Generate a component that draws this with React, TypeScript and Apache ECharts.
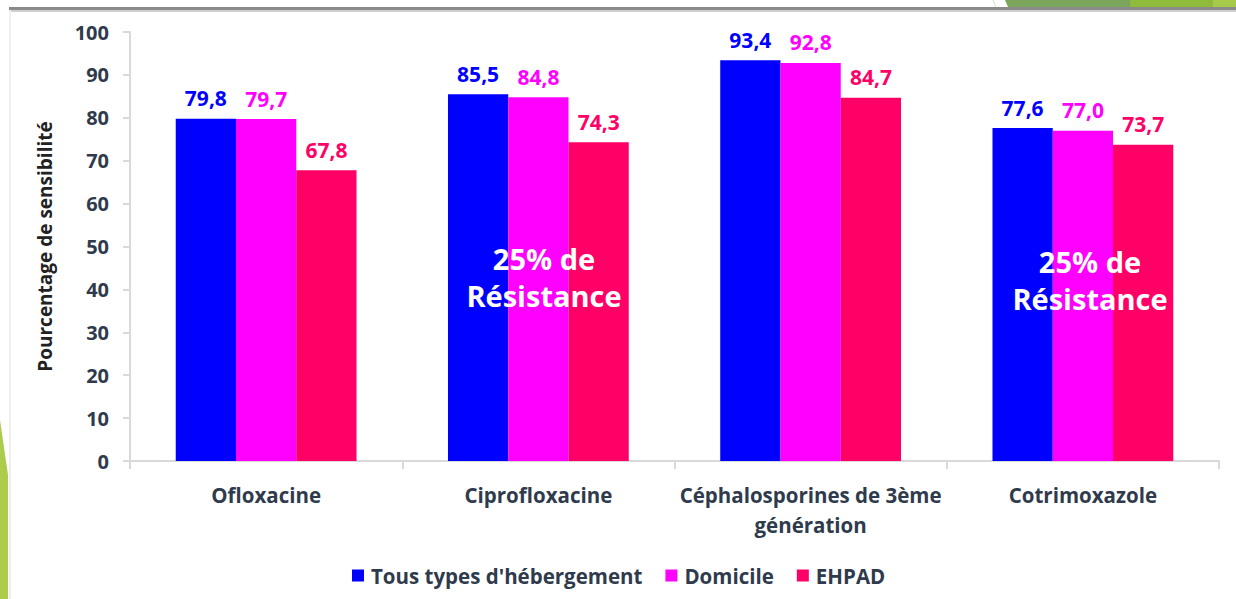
import React, { useEffect, useRef } from "react";
import * as echarts from "echarts";

const categories = [
  "Ofloxacine",
  "Ciprofloxacine",
  "Céphalosporines de 3ème\ngénération",
  "Cotrimoxazole",
];
const seriesNames = ["Tous types d'hébergement", "Domicile", "EHPAD"];
const tousTypes = [79.8, 85.5, 93.4, 77.6];
const domicile = [79.7, 84.8, 92.8, 77.0];
const ehpad = [67.8, 74.3, 84.7, 73.7];
const colors = ["#0000FF", "#FF00FF", "#FF0066"];
const yTicks = { min: 0, max: 100, interval: 10 };
const annotation = "25% de\nRésistance";

const textColor = "#2F3B4C";
const font = "'Open Sans', 'Noto Sans', sans-serif";

export default function App() {
  const ref = useRef<HTMLDivElement>(null);
  useEffect(() => {
    if (!ref.current) return;
    const chart = echarts.init(ref.current, null, { renderer: "svg" });
    const values = [tousTypes, domicile, ehpad];
    const annotationStyle = {
      text: annotation,
      fill: "#ffffff",
      fontSize: 29,
      fontWeight: "bold",
      fontFamily: font,
      align: "center",
      verticalAlign: "middle",
      lineHeight: 37,
    };
    const option: any = {
      animation: false,
      backgroundColor: "#ffffff",
      textStyle: { fontFamily: font },
      grid: { left: 130, top: 32, right: 17, bottom: 138 },
      legend: {
        left: 347,
        top: 560,
        itemWidth: 12,
        itemHeight: 12,
        itemGap: 23,
        icon: "rect",
        textStyle: { fontSize: 20.5, fontWeight: "bold", color: textColor, fontFamily: font, padding: [0, 0, 0, 2] },
        data: seriesNames,
      },
      xAxis: {
        type: "category",
        data: categories,
        axisLine: { lineStyle: { color: "#D9D9D9", width: 2 } },
        axisTick: { show: true, alignWithLabel: false, length: 8, lineStyle: { color: "#D9D9D9", width: 2 } },
        axisLabel: {
          color: textColor,
          fontSize: 20.5,
          fontWeight: "bold",
          fontFamily: font,
          margin: 19,
          lineHeight: 30,
          interval: 0,
        },
      },
      yAxis: {
        type: "value",
        min: yTicks.min,
        max: yTicks.max,
        interval: yTicks.interval,
        name: "Pourcentage de sensibilité",
        nameLocation: "middle",
        nameGap: 76,
        nameRotate: 90,
        nameTextStyle: { color: "#222", fontSize: 19, fontWeight: "bold", fontFamily: font },
        axisLine: { show: true, lineStyle: { color: "#D9D9D9", width: 2 } },
        axisTick: { show: true, length: 7, lineStyle: { color: "#D9D9D9", width: 2 } },
        splitLine: { show: false },
        axisLabel: { color: textColor, fontSize: 20, fontWeight: "bold", fontFamily: font, margin: 21 },
      },
      series: seriesNames.map((name, i) => ({
        name,
        type: "bar",
        data: values[i],
        barGap: "0%",
        barCategoryGap: "33.6%",
        itemStyle: { color: colors[i] },
        label: {
          show: true,
          position: "top",
          distance: 10,
          color: colors[i],
          fontSize: 21,
          fontWeight: "bold",
          fontFamily: font,
          formatter: (p: any) => Number(p.value).toFixed(1).replace(".", ","),
        },
      })),
      graphic: [
        // top gray rule with shadow
        { type: "rect", z: 100, shape: { x: 9, y: 7, width: 1227, height: 3 }, style: { fill: "#8a8a8a" }, silent: true },
        { type: "rect", z: 100, shape: { x: 9, y: 10, width: 1227, height: 2 }, style: { fill: "#d0d0d0" }, silent: true },
        // left thin vertical line
        { type: "rect", z: 100, shape: { x: 9, y: 10, width: 2, height: 589 }, style: { fill: "#EFEFEF" }, silent: true },
        // top right green band
        { type: "polygon", z: 100, shape: { points: [[1005, 0], [1130, 0], [1130, 7], [1008, 7]] }, style: { fill: "#7AA55A" }, silent: true },
        { type: "rect", z: 100, shape: { x: 1130, y: 0, width: 83, height: 7 }, style: { fill: "#8FBA3C" }, silent: true },
        { type: "rect", z: 100, shape: { x: 1213, y: 0, width: 23, height: 7 }, style: { fill: "#A6CB4A" }, silent: true },
        { type: "line", z: 100, shape: { x1: 993, y1: 0, x2: 996, y2: 7 }, style: { stroke: "#dddddd", lineWidth: 1 }, silent: true },
        // left green sliver
        { type: "polygon", z: 100, shape: { points: [[0, 420], [8, 475], [8, 599], [0, 599]] }, style: { fill: "#ABCD4B" }, silent: true },
        // annotations
        { type: "text", z: 100, x: 544, y: 277, style: annotationStyle, silent: true },
        { type: "text", z: 100, x: 1090, y: 280, style: annotationStyle, silent: true },
      ],
    };
    chart.setOption(option);
    return () => chart.dispose();
  }, []);
  return (
    <div
      ref={ref}
      style={{ position: "fixed", left: 0, top: 0, width: 1236, height: 599, background: "#fff" }}
    />
  );
}
